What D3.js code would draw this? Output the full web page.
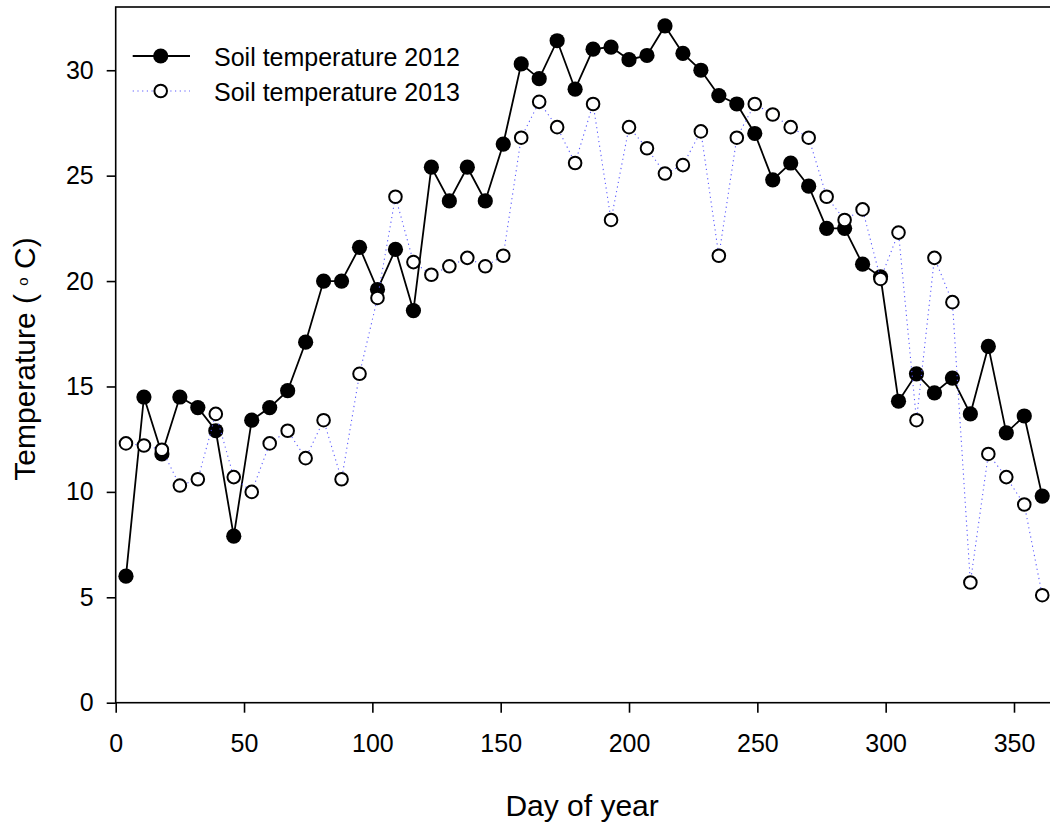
<!DOCTYPE html>
<html>
<head>
<meta charset="utf-8">
<script src="https://cdn.jsdelivr.net/npm/d3@7"></script>
<style>
  html, body { margin: 0; padding: 0; background: #fff; }
  svg { display: block; font-family: "Liberation Sans", Arial, sans-serif; }
</style>
</head>
<body>
<svg id="chart" width="1050" height="828"></svg>
<script>
// ---- data ----
const days = [4, 11, 18, 25, 32, 39, 46, 53, 60, 67, 74, 81, 88, 95, 102, 109, 116, 123, 130, 137,
  144, 151, 158, 165, 172, 179, 186, 193, 200, 207, 214, 221, 228, 235, 242, 249, 256, 263, 270, 277,
  284, 291, 298, 305, 312, 319, 326, 333, 340, 347, 354, 361];

const temp2012 = [6.0, 14.5, 11.8, 14.5, 14.0, 12.9, 7.9, 13.4, 14.0, 14.8,
  17.1, 20.0, 20.0, 21.6, 19.6, 21.5, 18.6, 25.4, 23.8, 25.4,
  23.8, 26.5, 30.3, 29.6, 31.4, 29.1, 31.0, 31.1, 30.5, 30.7,
  32.1, 30.8, 30.0, 28.8, 28.4, 27.0, 24.8, 25.6, 24.5, 22.5,
  22.5, 20.8, 20.2, 14.3, 15.6, 14.7, 15.4, 13.7, 16.9, 12.8,
  13.6, 9.8];

const temp2013 = [12.3, 12.2, 12.0, 10.3, 10.6, 13.7, 10.7, 10.0, 12.3, 12.9,
  11.6, 13.4, 10.6, 15.6, 19.2, 24.0, 20.9, 20.3, 20.7, 21.1,
  20.7, 21.2, 26.8, 28.5, 27.3, 25.6, 28.4, 22.9, 27.3, 26.3,
  25.1, 25.5, 27.1, 21.2, 26.8, 28.4, 27.9, 27.3, 26.8, 24.0,
  22.9, 23.4, 20.1, 22.3, 13.4, 21.1, 19.0, 5.7, 11.8, 10.7,
  9.4, 5.1];

const xTicks = [0, 50, 100, 150, 200, 250, 300, 350];
const yTicks = [0, 5, 10, 15, 20, 25, 30];
const seriesNames = ["Soil temperature 2012", "Soil temperature 2013"];
const xTitle = "Day of year";

(function () {
  // ---- layout ----
  const svg = d3.select("#chart");
  const pLeft = 115.7, pRight = 1052.5, pTop = 7, pBottom = 702.7;
  const x = d3.scaleLinear().domain([0, 365]).range([pLeft, pRight]);
  const y = d3.scaleLinear().domain([0, 33]).range([pBottom, pTop]);
  const FONT = "'Liberation Sans', Arial, sans-serif";

  // frame
  svg.append("rect")
    .attr("x", pLeft).attr("y", pTop)
    .attr("width", pRight - pLeft).attr("height", pBottom - pTop)
    .attr("fill", "none").attr("stroke", "#000").attr("stroke-width", 1.6);

  // x axis
  const xAxis = svg.append("g").attr("transform", `translate(0,${pBottom})`)
    .call(d3.axisBottom(x).tickValues(xTicks).tickSize(10).tickSizeOuter(0).tickPadding(22));
  xAxis.select(".domain").remove();
  xAxis.selectAll(".tick line").attr("stroke", "#000").attr("stroke-width", 1.6);
  xAxis.selectAll(".tick text").attr("font-size", 25).attr("fill", "#000").attr("font-family", FONT);

  // y axis
  const yAxis = svg.append("g").attr("transform", `translate(${pLeft},0)`)
    .call(d3.axisLeft(y).tickValues(yTicks).tickSize(9).tickSizeOuter(0).tickPadding(13));
  yAxis.select(".domain").remove();
  yAxis.selectAll(".tick line").attr("stroke", "#000").attr("stroke-width", 1.6);
  yAxis.selectAll(".tick text").attr("font-size", 25).attr("fill", "#000").attr("font-family", FONT);

  // axis titles
  svg.append("text")
    .attr("x", (pLeft + pRight) / 2 - 2).attr("y", 816)
    .attr("text-anchor", "middle").attr("font-size", 30).attr("fill", "#000")
    .text(xTitle);

  const yt = svg.append("text")
    .attr("transform", "translate(35,359) rotate(-90)")
    .attr("text-anchor", "middle").attr("font-size", 30).attr("fill", "#000");
  yt.append("tspan").text("Temperature ( ");
  yt.append("tspan").attr("font-size", 15).attr("dy", -7).text("o");
  yt.append("tspan").attr("dy", 7).text(" C)");

  // series
  const d12 = days.map((d, i) => ({ d, v: temp2012[i] }));
  const d13 = days.map((d, i) => ({ d, v: temp2013[i] }));
  const line = d3.line().x(p => x(p.d)).y(p => y(p.v));

  svg.append("path").datum(d12).attr("d", line)
    .attr("fill", "none").attr("stroke", "#000").attr("stroke-width", 1.8);
  svg.append("g").selectAll("circle").data(d12).join("circle")
    .attr("cx", p => x(p.d)).attr("cy", p => y(p.v)).attr("r", 7.6)
    .attr("fill", "#000");

  svg.append("path").datum(d13).attr("d", line)
    .attr("fill", "none").attr("stroke", "#5a5aff").attr("stroke-width", 1.1)
    .attr("stroke-dasharray", "1.2,3.5");
  svg.append("g").selectAll("circle").data(d13).join("circle")
    .attr("cx", p => x(p.d)).attr("cy", p => y(p.v)).attr("r", 6.3)
    .attr("fill", "#fff").attr("stroke", "#000").attr("stroke-width", 2);

  // legend
  const lg = svg.append("g");
  const rows = [
    { name: seriesNames[0], cy: 56, solid: true },
    { name: seriesNames[1], cy: 91, solid: false }
  ];
  rows.forEach(r => {
    const ln = lg.append("line").attr("x1", 132.7).attr("x2", 190).attr("y1", r.cy).attr("y2", r.cy);
    if (r.solid) {
      ln.attr("stroke", "#000").attr("stroke-width", 1.8);
      lg.append("circle").attr("cx", 160.7).attr("cy", r.cy).attr("r", 7.6).attr("fill", "#000");
    } else {
      ln.attr("stroke", "#5a5aff").attr("stroke-width", 1.1).attr("stroke-dasharray", "1.2,3.5");
      lg.append("circle").attr("cx", 160.7).attr("cy", r.cy).attr("r", 6.3)
        .attr("fill", "#fff").attr("stroke", "#000").attr("stroke-width", 2);
    }
    lg.append("text").attr("x", 214).attr("y", r.cy + 10).attr("font-size", 25).attr("fill", "#000")
      .text(r.name);
  });
})();
</script>
</body>
</html>
